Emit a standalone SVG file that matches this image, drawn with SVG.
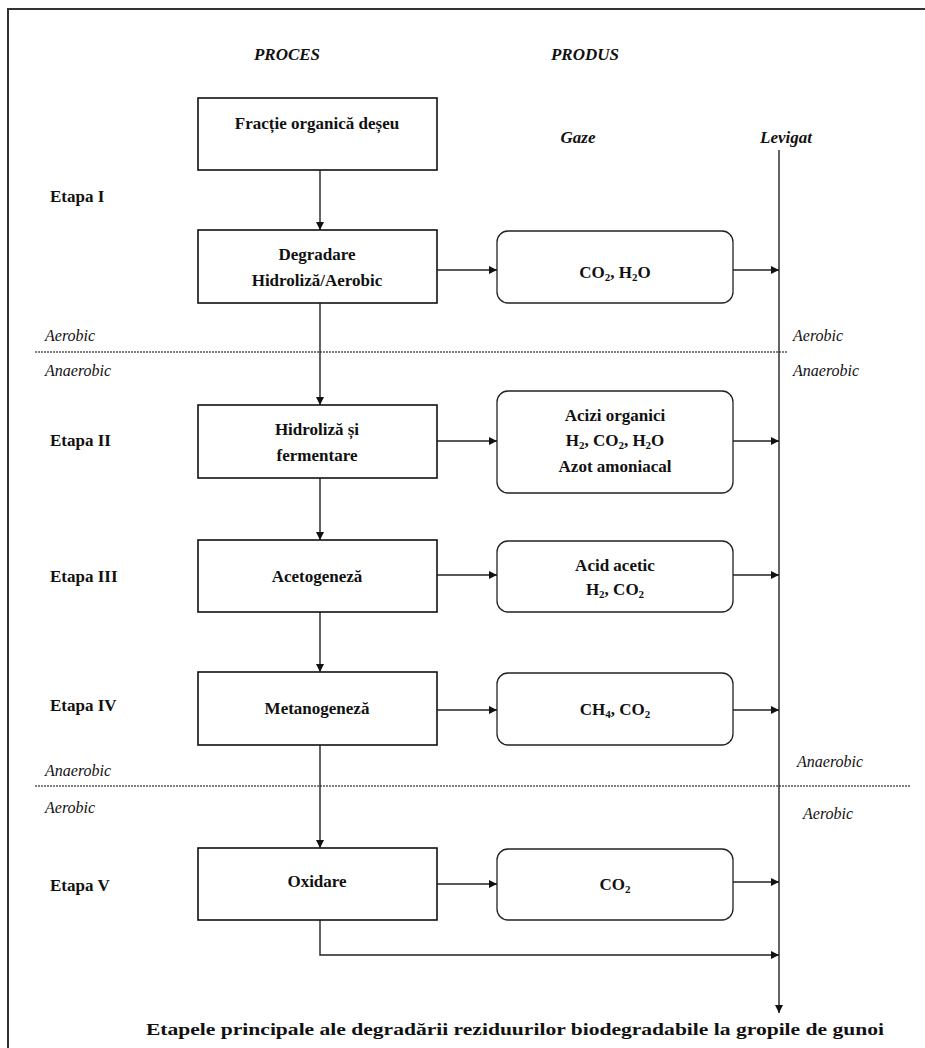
<svg xmlns="http://www.w3.org/2000/svg" width="925" height="1048" viewBox="0 0 925 1048">
<defs>
<marker id="ah" viewBox="0 0 10 10" refX="10" refY="5" markerWidth="8" markerHeight="8" markerUnits="userSpaceOnUse" orient="auto">
<path d="M0,0 L10,5 L0,10 z" fill="#111"/>
</marker>
<style>
text{font-family:'Liberation Serif','Times New Roman','DejaVu Serif',serif}
.frame{fill:none;stroke:#333;stroke-width:2}
.pbox{fill:#fff;stroke:#111;stroke-width:1.6}
.gbox{fill:#fff;stroke:#222;stroke-width:1.3}
.t{font-weight:bold;font-size:17px;fill:#111;text-anchor:middle}
.hd{font-weight:bold;font-style:italic;font-size:17px;fill:#111;text-anchor:middle}
.et{font-weight:bold;font-size:17px;fill:#111}
.ae{font-style:italic;font-size:16px;fill:#111}
.c{fill:none;stroke:#222;stroke-width:1.4}
.dot{fill:none;stroke:#555;stroke-width:1.6;stroke-dasharray:2 1}
.sub{font-size:11px}
</style>
</defs>
<rect class="frame" x="8" y="9" width="930" height="1050"/>

<g id="headers">
<text class="hd" x="287" y="60">PROCES</text>
<text class="hd" x="585" y="60">PRODUS</text>
<text class="hd" x="578" y="143">Gaze</text>
<text class="hd" x="786" y="143">Levigat</text>
</g>

<g id="stages">
<text class="et" x="50" y="202">Etapa I</text>
<text class="et" x="50" y="446">Etapa II</text>
<text class="et" x="50" y="582">Etapa III</text>
<text class="et" x="50" y="711">Etapa IV</text>
<text class="et" x="50" y="891">Etapa V</text>
</g>

<g id="zones">
<text class="ae" x="45" y="341">Aerobic</text>
<text class="ae" x="793" y="341">Aerobic</text>
<line class="dot" x1="35" y1="352" x2="788" y2="352"/>
<text class="ae" x="45" y="376">Anaerobic</text>
<text class="ae" x="793" y="376">Anaerobic</text>
<text class="ae" x="45" y="776">Anaerobic</text>
<text class="ae" x="797" y="767">Anaerobic</text>
<line class="dot" x1="35" y1="786" x2="910" y2="786"/>
<text class="ae" x="45" y="813">Aerobic</text>
<text class="ae" x="803" y="819">Aerobic</text>
</g>

<g id="n1"><rect class="pbox" x="198" y="98" width="239" height="72"/>
<text class="t" x="317" y="129">Fracție organică deșeu</text></g>

<g id="n2"><rect class="pbox" x="198" y="230" width="239" height="73"/>
<text class="t" x="317" y="260">Degradare</text>
<text class="t" x="317" y="286">Hidroliză/Aerobic</text></g>

<g id="n3"><rect class="pbox" x="198" y="405" width="239" height="73"/>
<text class="t" x="317" y="435">Hidroliză și</text>
<text class="t" x="317" y="461">fermentare</text></g>

<g id="n4"><rect class="pbox" x="198" y="540" width="239" height="72"/>
<text class="t" x="317" y="582">Acetogeneză</text></g>

<g id="n5"><rect class="pbox" x="198" y="672" width="239" height="73"/>
<text class="t" x="317" y="714">Metanogeneză</text></g>

<g id="n6"><rect class="pbox" x="198" y="848" width="239" height="72"/>
<text class="t" x="317" y="887">Oxidare</text></g>

<g id="g1"><rect class="gbox" x="497" y="231" width="236" height="72" rx="11"/>
<text class="t" x="615" y="278">CO<tspan class="sub" dy="3">2</tspan><tspan dy="-3">, H</tspan><tspan class="sub" dy="3">2</tspan><tspan dy="-3">O</tspan></text></g>

<g id="g2"><rect class="gbox" x="497" y="391" width="236" height="102" rx="11"/>
<text class="t" x="615" y="421">Acizi organici</text>
<text class="t" x="615" y="446">H<tspan class="sub" dy="3">2</tspan><tspan dy="-3">, CO</tspan><tspan class="sub" dy="3">2</tspan><tspan dy="-3">, H</tspan><tspan class="sub" dy="3">2</tspan><tspan dy="-3">O</tspan></text>
<text class="t" x="615" y="472">Azot amoniacal</text></g>

<g id="g3"><rect class="gbox" x="497" y="541" width="236" height="71" rx="11"/>
<text class="t" x="615" y="571">Acid acetic</text>
<text class="t" x="615" y="595">H<tspan class="sub" dy="3">2</tspan><tspan dy="-3">, CO</tspan><tspan class="sub" dy="3">2</tspan></text></g>

<g id="g4"><rect class="gbox" x="497" y="673" width="236" height="72" rx="11"/>
<text class="t" x="615" y="715">CH<tspan class="sub" dy="3">4</tspan><tspan dy="-3">, CO</tspan><tspan class="sub" dy="3">2</tspan></text></g>

<g id="g5"><rect class="gbox" x="497" y="849" width="236" height="71" rx="11"/>
<text class="t" x="615" y="890">CO<tspan class="sub" dy="3">2</tspan></text></g>

<g id="connectors">
<line class="c" x1="779" y1="150" x2="779" y2="1013" marker-end="url(#ah)"/>
<line class="c" x1="320" y1="170" x2="320" y2="230" marker-end="url(#ah)"/>
<line class="c" x1="320" y1="303" x2="320" y2="405" marker-end="url(#ah)"/>
<line class="c" x1="320" y1="478" x2="320" y2="540" marker-end="url(#ah)"/>
<line class="c" x1="320" y1="612" x2="320" y2="672" marker-end="url(#ah)"/>
<line class="c" x1="320" y1="745" x2="320" y2="848" marker-end="url(#ah)"/>
<line class="c" x1="437" y1="270" x2="497" y2="270" marker-end="url(#ah)"/>
<line class="c" x1="733" y1="270" x2="779" y2="270" marker-end="url(#ah)"/>
<line class="c" x1="437" y1="441" x2="497" y2="441" marker-end="url(#ah)"/>
<line class="c" x1="733" y1="441" x2="779" y2="441" marker-end="url(#ah)"/>
<line class="c" x1="437" y1="575" x2="497" y2="575" marker-end="url(#ah)"/>
<line class="c" x1="733" y1="575" x2="779" y2="575" marker-end="url(#ah)"/>
<line class="c" x1="437" y1="710" x2="497" y2="710" marker-end="url(#ah)"/>
<line class="c" x1="733" y1="710" x2="779" y2="710" marker-end="url(#ah)"/>
<line class="c" x1="437" y1="884" x2="497" y2="884" marker-end="url(#ah)"/>
<line class="c" x1="733" y1="882" x2="779" y2="882" marker-end="url(#ah)"/>
<polyline class="c" points="320,920 320,955 779,955" marker-end="url(#ah)"/>
</g>

<text class="et" x="515" y="1035" text-anchor="middle" textLength="738" lengthAdjust="spacingAndGlyphs" style="font-size:16px">Etapele principale ale degradării reziduurilor biodegradabile la gropile de gunoi</text>
</svg>
